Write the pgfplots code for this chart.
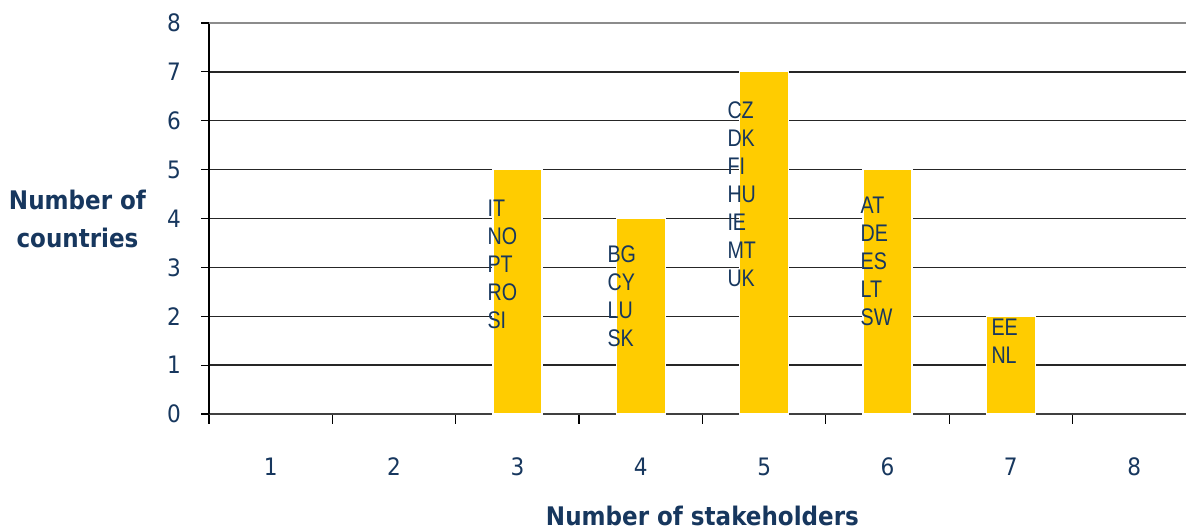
\documentclass[border=0pt]{standalone}
\usepackage{pgfplots}
\pgfplotsset{compat=1.18}
\usepackage{fontspec}
\setmainfont{DejaVu Sans Condensed}
\newfontfamily\narrowfont[FakeStretch=0.82]{Liberation Sans}
\definecolor{navy}{HTML}{17375E}
\definecolor{barc}{HTML}{FFCC00}
\begin{document}
\begin{tikzpicture}
\begin{axis}[name=ax,
  scale only axis, width=488.5pt, height=195.5pt,
  xmin=0.5, xmax=8.42, ymin=0, ymax=8,
  axis lines*=left,
  x axis line style={draw=black!75, line width=0.8pt},
  y axis line style={draw=black, line width=0.8pt},
  ytick={0,...,8},
  xtick={1,...,8},
  minor xtick={0.5,1.5,...,7.5},
  major x tick style={draw=none},
  minor x tick style={draw=black, line width=0.6pt},
  minor tick length=5pt,
  y tick style={draw=black, line width=0.6pt},
  major tick length=4pt,
  tick align=outside,
  ymajorgrids,
  grid style={draw=black!85, line width=0.7pt},
  /pgf/number format/assume math mode=true,
  ticklabel style={font=\fontsize{12}{14}\selectfont, text=navy},
  xticklabel style={yshift=-14.5pt},
  yticklabel style={xshift=-6.5pt},
  clip=false,
]
\addplot[ybar, bar width=24.5pt, fill=barc, draw=white, line width=0.6pt,
  restrict y to domain=0.1:10] coordinates {
  (1,0) (2,0) (3,5) (4,4) (5,7) (6,5) (7,2) (8,0)};
\draw[draw=black!45, line width=0.8pt] (axis cs:0.5,8) -- (axis cs:8.42,8);
\begin{scope}[every node/.style={anchor=north west, inner sep=0pt, align=left, text=navy,
    font=\narrowfont\fontsize{12}{14}\selectfont}]
\node at (axis cs:2.755,4.38) {IT\\NO\\PT\\RO\\SI};
\node at (axis cs:3.728,3.46) {BG\\CY\\LU\\SK};
\node at (axis cs:4.70,6.40) {CZ\\DK\\FI\\HU\\IE\\MT\\UK};
\node at (axis cs:5.78,4.44) {AT\\DE\\ES\\LT\\SW};
\node at (axis cs:6.84,1.96) {EE\\NL};
\end{scope}
\node[align=center, text=navy, font=\bfseries\fontsize{12.8}{18.7}\selectfont]
  at (rel axis cs:0,0.499) [xshift=-65.75pt] {Number of\\countries};
\node[anchor=base, text=navy, font=\bfseries\fontsize{12.8}{15}\selectfont]
  at (rel axis cs:0.505,0) [yshift=-56pt] {Number of stakeholders};
\end{axis}
\pgfresetboundingbox
\path[use as bounding box] ([shift={(-104.5pt,-58.5pt)}]ax.south west) rectangle ([shift={(0pt,11.5pt)}]ax.north east);
\end{tikzpicture}
\end{document}
